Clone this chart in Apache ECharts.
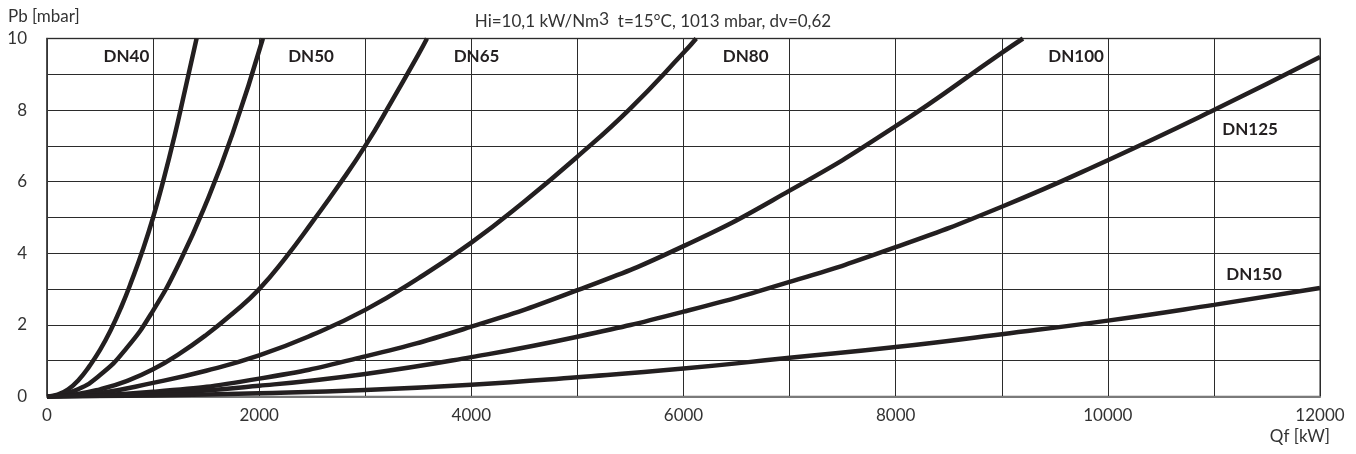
<!DOCTYPE html>
<html>
<head>
<meta charset="utf-8">
<script src="https://cdn.jsdelivr.net/npm/echarts@6/dist/echarts.min.js"></script>
<style>
html,body{margin:0;padding:0;background:#fff;}
#chart{width:1356px;height:454px;}
</style>
</head>
<body>
<div id="chart"></div>
<script>
// ---- Data (Qf [kW], Pb [mbar]) ----
const seriesNames = ["DN40", "DN50", "DN65", "DN80", "DN100", "DN125", "DN150"];

const dn40Q = [0, 100, 200, 300, 400, 500, 600, 700, 800, 900, 1000, 1100, 1200, 1300, 1410];
const dn40P = [0, 0.05, 0.2, 0.47, 0.85, 1.3, 1.85, 2.5, 3.25, 4.07, 5.0, 6.07, 7.25, 8.55, 10];

const dn50Q = [0, 250, 500, 750, 1000, 1250, 1500, 1750, 2035];
const dn50P = [0, 0.15, 0.6, 1.35, 2.4, 3.75, 5.4, 7.35, 10];

const dn65Q = [0, 250, 500, 750, 1000, 1250, 1500, 1750, 2000, 2250, 2500, 2750, 3000, 3250, 3500, 3582];
const dn65P = [0, 0.05, 0.2, 0.43, 0.76, 1.2, 1.72, 2.32, 3.0, 3.88, 4.87, 5.9, 7.0, 8.25, 9.55, 10];

const dn80Q = [0, 500, 1000, 1500, 2000, 2500, 3000, 3500, 4000, 4500, 5000, 5500, 6000, 6120];
const dn80P = [0, 0.1, 0.38, 0.72, 1.15, 1.72, 2.42, 3.3, 4.3, 5.45, 6.7, 8.05, 9.6, 10];

const dn100Q = [0, 1000, 2000, 3000, 4000, 5000, 6000, 7000, 8000, 9000, 9200];
const dn100P = [0, 0.13, 0.5, 1.12, 1.95, 2.97, 4.2, 5.75, 7.55, 9.6, 10];

const dn125Q = [0, 1000, 2000, 3000, 4000, 5000, 6000, 7000, 8000, 9000, 10000, 11000, 12000];
const dn125P = [0, 0.08, 0.3, 0.63, 1.1, 1.67, 2.37, 3.2, 4.17, 5.3, 6.6, 8.0, 9.48];

const dn150Q = [0, 1000, 2000, 3000, 4000, 5000, 6000, 7000, 8000, 9000, 10000, 11000, 12000];
const dn150P = [0, 0.03, 0.09, 0.18, 0.33, 0.54, 0.78, 1.08, 1.38, 1.74, 2.12, 2.56, 3.03];

const xTickLabels = ["0", "2000", "4000", "6000", "8000", "10000", "12000"];
const yTickLabels = ["0", "2", "4", "6", "8", "10"];

// label anchor points in data space (text centres)
const labelAnchorQ = [749, 2489, 4049, 6586, 9701, 11341, 11378];
const labelAnchorP = [9.5, 9.5, 9.5, 9.5, 9.5, 7.46, 3.42];

// ---- Build chart ----
const allQ = [dn40Q, dn50Q, dn65Q, dn80Q, dn100Q, dn125Q, dn150Q];
const allP = [dn40P, dn50P, dn65P, dn80P, dn100P, dn125P, dn150P];

const FONT = 'Lato';
const lineColor = '#231f20';

const series = seriesNames.map((name, i) => ({
  name: name,
  type: 'line',
  data: allQ[i].map((q, j) => [q, allP[i][j]]),
  smooth: 0.5,
  symbol: 'none',
  lineStyle: { color: lineColor, width: 4.5 },
  clip: true,
  z: 5,
  markPoint: {
    symbol: 'circle',
    symbolSize: 0,
    silent: true,
    data: [{ coord: [labelAnchorQ[i], labelAnchorP[i]] }],
    label: {
      show: true,
      position: 'inside',
      formatter: name,
      fontFamily: FONT,
      fontWeight: 'bold',
      fontSize: 17,
      color: lineColor
    }
  }
}));

const chart = echarts.init(document.getElementById('chart'), null, { renderer: 'canvas' });
chart.setOption({
  animation: false,
  backgroundColor: '#ffffff',
  title: {
    text: 'Hi=10,1 kW/Nm{sup|3}  t=15°C, 1013 mbar, dv=0,62',
    left: 648,
    textAlign: 'center',
    top: 5,
    textStyle: {
      fontFamily: FONT,
      fontSize: 17,
      fontWeight: 'normal',
      color: '#333',
      rich: {
        sup: { fontFamily: FONT, fontSize: 17.5, color: '#333', verticalAlign: 'bottom', padding: [0, 0, 6, 0] }
      }
    }
  },
  grid: {
    left: 47, right: 36, top: 38.5, bottom: 57.5,
    show: true,
    borderColor: '#6b6b6b',
    borderWidth: 1.5,
    backgroundColor: 'transparent'
  },
  xAxis: {
    type: 'value',
    min: 0, max: 12000, interval: 1000,
    axisLine: { show: true, lineStyle: { color: '#7a7a7a', width: 2 } },
    axisTick: { show: false },
    splitLine: { show: true, lineStyle: { color: '#2b2b2b', width: 1 } },
    axisLabel: {
      margin: 11,
      fontFamily: FONT, fontSize: 17, color: '#333',
      formatter: v => { const s = String(v); return xTickLabels.indexOf(s) >= 0 ? s : ''; }
    }
  },
  yAxis: {
    type: 'value',
    min: 0, max: 10, interval: 1,
    axisLine: { show: true, lineStyle: { color: '#3a3a3a', width: 1.5 } },
    axisTick: { show: false },
    splitLine: { show: true, lineStyle: { color: '#2b2b2b', width: 1 } },
    axisLabel: {
      margin: 20,
      fontFamily: FONT, fontSize: 17, color: '#333',
      formatter: v => { const s = String(v); return yTickLabels.indexOf(s) >= 0 ? s : ''; }
    }
  },
  graphic: [
    { type: 'text', left: 8, top: 8, style: { text: 'Pb [mbar]', fontFamily: FONT, fontSize: 17, fill: '#333' } },
    { type: 'text', right: 26, top: 428, style: { text: 'Qf [kW]', fontFamily: FONT, fontSize: 17, fill: '#333' } }
  ],
  series: series
});
</script>
</body>
</html>
